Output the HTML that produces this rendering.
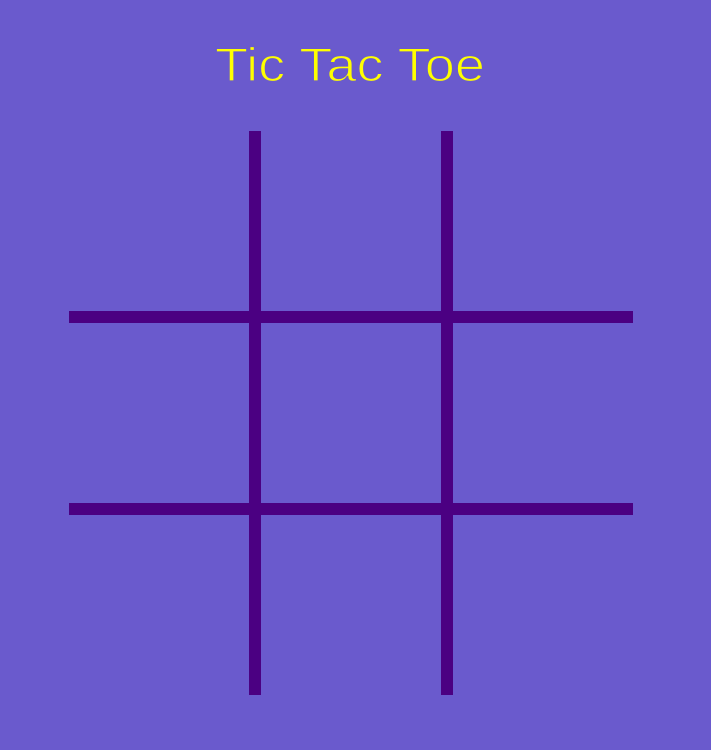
<!DOCTYPE html>
<html>
<head>
<meta charset="utf-8">
<style>
  html,body{margin:0;padding:0;}
  body{width:711px;height:750px;background:#6a5acd;overflow:hidden;}
</style>
</head>
<body>
<svg width="711" height="750" viewBox="0 0 711 750" xmlns="http://www.w3.org/2000/svg" style="display:block">
  <rect x="0" y="0" width="711" height="750" fill="#6a5acd"/>
  <text x="350" y="81" text-anchor="middle" textLength="270" lengthAdjust="spacingAndGlyphs" font-family="'Liberation Sans', sans-serif" font-size="47" fill="#ffff00" stroke="#6a5acd" stroke-width="1.2">Tic Tac Toe</text>
  <rect x="249" y="131" width="12" height="564" fill="#4b0082"/>
  <rect x="441" y="131" width="12" height="564" fill="#4b0082"/>
  <rect x="69" y="311" width="564" height="12" fill="#4b0082"/>
  <rect x="69" y="503" width="564" height="12" fill="#4b0082"/>
  <rect x="69" y="131" width="180" height="180" fill="transparent"/>
  <rect x="261" y="131" width="180" height="180" fill="transparent"/>
  <rect x="453" y="131" width="180" height="180" fill="transparent"/>
  <rect x="69" y="323" width="180" height="180" fill="transparent"/>
  <rect x="261" y="323" width="180" height="180" fill="transparent"/>
  <rect x="453" y="323" width="180" height="180" fill="transparent"/>
  <rect x="69" y="515" width="180" height="180" fill="transparent"/>
  <rect x="261" y="515" width="180" height="180" fill="transparent"/>
  <rect x="453" y="515" width="180" height="180" fill="transparent"/>
</svg>
</body>
</html>
